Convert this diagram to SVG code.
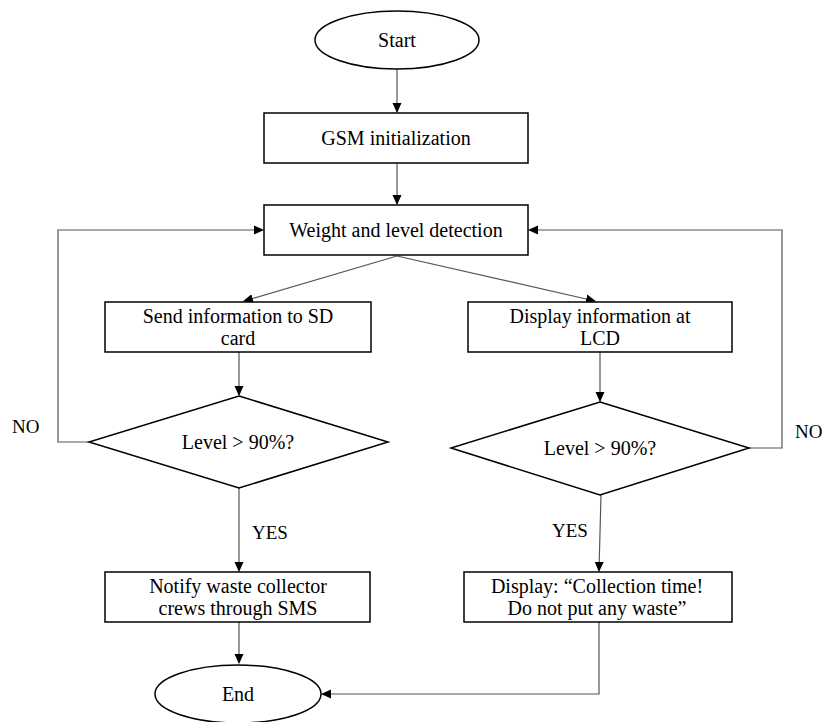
<svg xmlns="http://www.w3.org/2000/svg" width="826" height="722" viewBox="0 0 826 722">
<defs>
<marker id="a" markerWidth="10" markerHeight="10" refX="9" refY="5" orient="auto" markerUnits="userSpaceOnUse">
<path d="M0,0.5 L10,5 L0,9.5 Z" fill="#000"/>
</marker>
</defs>
<rect width="826" height="722" fill="#fff"/>
<g id="connectors" fill="none" stroke="#555" stroke-width="1.2">
<line x1="397" y1="69" x2="397" y2="112" marker-end="url(#a)"/>
<line x1="397" y1="163" x2="397" y2="204" marker-end="url(#a)"/>
<line x1="397" y1="256" x2="244" y2="301" marker-end="url(#a)"/>
<line x1="397" y1="256" x2="595" y2="301" marker-end="url(#a)"/>
<line x1="239" y1="352" x2="239" y2="395" marker-end="url(#a)"/>
<line x1="600" y1="352" x2="600" y2="401" marker-end="url(#a)"/>
<polyline points="89,442 58,442 58,230 263,230" marker-end="url(#a)"/>
<polyline points="749,448 782,448 782,230 529,230" marker-end="url(#a)"/>
<line x1="239" y1="488" x2="239" y2="571" marker-end="url(#a)"/>
<line x1="601" y1="495" x2="599" y2="571" marker-end="url(#a)"/>
<line x1="239" y1="622" x2="239" y2="663" marker-end="url(#a)"/>
<polyline points="599,622 599,694 322,694" marker-end="url(#a)"/>
</g>
<g id="labels" fill="#000" font-family="Liberation Serif" font-size="19">
<text x="12" y="433">NO</text>
<text x="795" y="438">NO</text>
<text x="252" y="539">YES</text>
<text x="552" y="537">YES</text>
</g>
<g id="start">
<ellipse cx="397" cy="40" rx="82" ry="29" fill="#fff" stroke="#000" stroke-width="1.5"/>
<text x="397" y="47" font-family="Liberation Serif" font-size="20" text-anchor="middle">Start</text>
</g>
<g id="gsm">
<rect x="264" y="113" width="264" height="50" fill="#fff" stroke="#000" stroke-width="1.5"/>
<text x="396" y="145" font-family="Liberation Serif" font-size="20" text-anchor="middle">GSM initialization</text>
</g>
<g id="weight">
<rect x="264" y="205" width="264" height="50" fill="#fff" stroke="#000" stroke-width="1.5"/>
<text x="396" y="237" font-family="Liberation Serif" font-size="20" text-anchor="middle">Weight and level detection</text>
</g>
<g id="sd">
<rect x="105" y="302" width="266" height="50" fill="#fff" stroke="#000" stroke-width="1.5"/>
<text x="238" y="323" font-family="Liberation Serif" font-size="20" text-anchor="middle">Send information to SD</text>
<text x="238" y="345" font-family="Liberation Serif" font-size="20" text-anchor="middle">card</text>
</g>
<g id="lcd">
<rect x="468" y="302" width="264" height="50" fill="#fff" stroke="#000" stroke-width="1.5"/>
<text x="600" y="323" font-family="Liberation Serif" font-size="20" text-anchor="middle">Display information at</text>
<text x="600" y="345" font-family="Liberation Serif" font-size="20" text-anchor="middle">LCD</text>
</g>
<g id="level1">
<polygon points="239,396 388,442 239,488 89,442" fill="#fff" stroke="#000" stroke-width="1.5"/>
<text x="238" y="449" font-family="Liberation Serif" font-size="20" text-anchor="middle">Level &gt; 90%?</text>
</g>
<g id="level2">
<polygon points="600,402 749,448 600,495 451,448" fill="#fff" stroke="#000" stroke-width="1.5"/>
<text x="600" y="455" font-family="Liberation Serif" font-size="20" text-anchor="middle">Level &gt; 90%?</text>
</g>
<g id="notify">
<rect x="105" y="572" width="265" height="50" fill="#fff" stroke="#000" stroke-width="1.5"/>
<text x="238" y="593" font-family="Liberation Serif" font-size="20" text-anchor="middle">Notify waste collector</text>
<text x="238" y="615" font-family="Liberation Serif" font-size="20" text-anchor="middle">crews through SMS</text>
</g>
<g id="collect">
<rect x="464" y="572" width="268" height="50" fill="#fff" stroke="#000" stroke-width="1.5"/>
<text x="597" y="593" font-family="Liberation Serif" font-size="20" text-anchor="middle">Display: &#8220;Collection time!</text>
<text x="597" y="615" font-family="Liberation Serif" font-size="20" text-anchor="middle">Do not put any waste&#8221;</text>
</g>
<g id="end">
<ellipse cx="238" cy="694" rx="83" ry="29" fill="#fff" stroke="#000" stroke-width="1.5"/>
<text x="238" y="701" font-family="Liberation Serif" font-size="20" text-anchor="middle">End</text>
</g>
</svg>
